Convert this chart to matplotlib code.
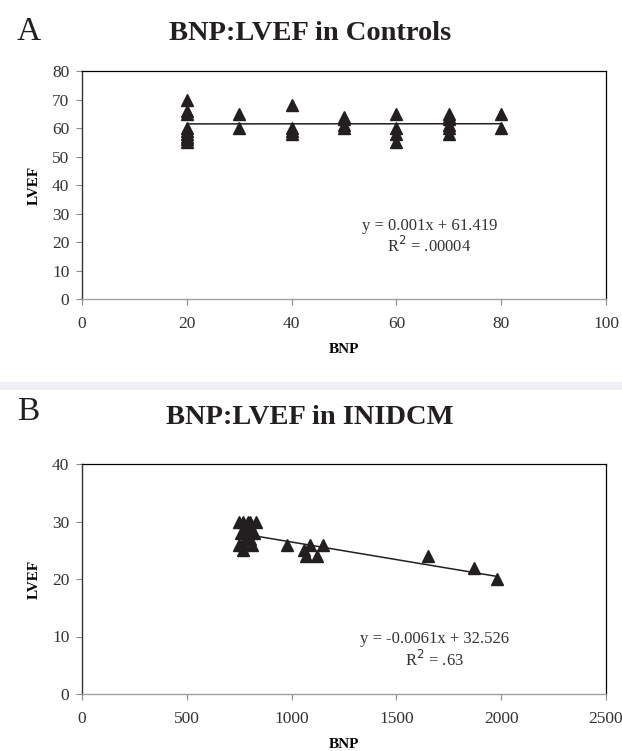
import numpy as np
import matplotlib
matplotlib.use('Agg')
import matplotlib.pyplot as plt
from matplotlib.patches import Rectangle

plt.rcParams['font.family'] = ['Liberation Serif', 'DejaVu Serif']

# Panel A: controls
ctrl_bnp = [20, 20, 20, 20, 20, 20, 20, 20, 20,
            30, 30,
            40, 40, 40, 40,
            50, 50, 50, 50,
            60, 60, 60, 60,
            70, 70, 70, 70, 70, 70,
            80, 80]
ctrl_lvef = [70, 66, 65, 60, 59, 58, 57, 56, 55,
             65, 60,
             68, 60, 59, 58,
             64, 63, 61, 60,
             65, 60, 58, 55,
             65, 64, 63, 61, 60, 58,
             65, 60]
ctrl_fit = (0.001, 61.419)

# Panel B: INIDCM
dcm_bnp = [750, 770, 790, 800, 830, 780, 800, 760, 790, 820, 780, 800,
           750, 770, 810, 770, 980, 1060, 1070, 1090, 1120, 1150,
           1650, 1870, 1980]
dcm_lvef = [30, 30, 30, 30, 30, 29, 29, 28, 28, 28, 27, 27,
            26, 26, 26, 25, 26, 25, 24, 26, 24, 26,
            24, 22, 20]
dcm_fit = (-0.0061, 32.526)

W, H = 622, 751
fig = plt.figure(figsize=(W / 100, H / 100), dpi=100)

mark = '#231f20'


def panel(rect, xs, ys, fit, xlim, xticks, ylim, yticks, title, letter,
          eq, r2, txy, title_y, letter_y):
    l, t, r, b = rect
    ax = fig.add_axes([l / W, 1 - b / H, (r - l) / W, (b - t) / H])
    ax.plot(xs, ys, linestyle='none', marker='^', markersize=8.5,
            color=mark, zorder=3, clip_on=False)
    fx = np.array([min(xs), max(xs)])
    ax.plot(fx, fit[0] * fx + fit[1], color='#231f20', linewidth=1.1, zorder=2)
    ax.set_xlim(*xlim)
    ax.set_ylim(*ylim)
    ax.set_xticks(xticks)
    ax.set_yticks(yticks)
    ax.tick_params(axis='both', direction='out', length=4, width=0.8,
                   color='#8c8c8c', labelsize=12.5, labelcolor='#333333')
    ax.tick_params(axis='x', pad=8)
    ax.tick_params(axis='y', pad=5)
    for s in ['top', 'right']:
        ax.spines[s].set_color('black')
        ax.spines[s].set_linewidth(0.9)
    ax.spines['left'].set_color('#333333')
    ax.spines['left'].set_linewidth(1.0)
    ax.spines['bottom'].set_color('#a0a0a0')
    ax.spines['bottom'].set_linewidth(1.0)
    ax.set_xlabel('BNP', fontsize=11, fontweight='bold', labelpad=8)
    ax.set_ylabel('LVEF', fontsize=11, fontweight='bold', labelpad=8)
    ax.text(txy[0], txy[1], eq, fontsize=12, ha='center', va='center',
            color='#333333')
    ax.text(txy[0], txy[2], r2, fontsize=12, ha='center', va='center',
            color='#333333')
    fig.text(310 / W, 1 - title_y / H, title, fontsize=20.5, fontweight='bold',
             ha='center', va='center', color='#231f20')
    fig.text(17 / W, 1 - letter_y / H, letter, fontsize=24, ha='left',
             va='center', color='#231f20')
    return ax


panel((82, 71, 606, 299), ctrl_bnp, ctrl_lvef, ctrl_fit,
      (0, 100), [0, 20, 40, 60, 80, 100], (0, 80), range(0, 81, 10),
      'BNP:LVEF in Controls', 'A',
      'y = 0.001x + 61.419', 'R$^2$ = .00004', (66.3, 25.7, 18.7), 34, 32)

panel((82, 464, 606, 694), dcm_bnp, dcm_lvef, dcm_fit,
      (0, 2500), [0, 500, 1000, 1500, 2000, 2500], (0, 40), [0, 10, 20, 30, 40],
      'BNP:LVEF in INIDCM', 'B',
      'y = -0.0061x + 32.526', 'R$^2$ = .63', (1680, 9.6, 6.0), 418, 412)

# thin grey separator band between the panels
fig.patches.append(Rectangle((0, 1 - 390 / H), 1, 8 / H, transform=fig.transFigure,
                             facecolor='#eff0f5', edgecolor='none', zorder=0))

plt.savefig('out.png', dpi=100)
